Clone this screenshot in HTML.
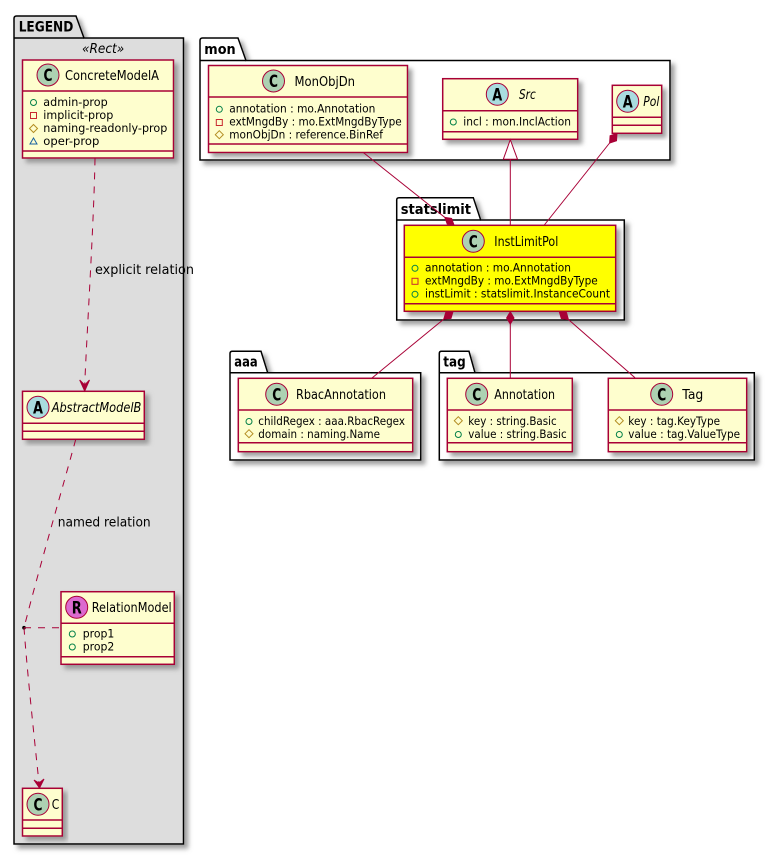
<!DOCTYPE html>
<html>
<head>
<meta charset="utf-8">
<style>
html,body{margin:0;padding:0;background:#fff;width:775px;height:855px;overflow:hidden}
svg{display:block;position:absolute;left:0;top:0}
text{font-family:"DejaVu Sans","Liberation Sans",sans-serif;fill:#000}
.t{font-size:13px}
.r{font-size:11.5px}
.p{font-size:14px;font-weight:bold}
.l{font-size:13px}
.i{font-style:italic}
.c{font-size:17px;font-weight:bold;text-anchor:middle}
.pk{stroke:#000;stroke-width:1.5;fill:#fff}
.cl{stroke:#A80036;stroke-width:1.5;fill:#FEFECE}
.s{stroke:#A80036;stroke-width:1.5;fill:none}
.g{stroke:#A80036;stroke-width:1;fill:#ADD1B2}
.a{stroke:#A80036;stroke-width:1;fill:#A9DCDF}
.m{stroke:#A80036;stroke-width:1;fill:#DC6ACF}
.n{stroke:#A80036;stroke-width:1;fill:none}
.d{stroke:#A80036;stroke-width:1;fill:none;stroke-dasharray:7,7}
.f{stroke:#A80036;stroke-width:1;fill:#A80036}
</style>
</head>
<body>
<svg width="775" height="855" viewBox="0 0 775 855" xmlns="http://www.w3.org/2000/svg">
<defs>
<filter id="sh" x="-10%" y="-10%" width="125%" height="125%">
<feDropShadow dx="4" dy="4" stdDeviation="2.5" flood-color="#888" flood-opacity="0.8"/>
</filter>
<g id="pub"><circle r="3" fill="none" stroke="#038048"/></g>
<g id="pri"><rect x="-3" y="-3" width="6" height="6" fill="none" stroke="#C82930"/></g>
<g id="pro"><polygon points="0,-4 4,0 0,4 -4,0" fill="none" stroke="#B38D22"/></g>
<g id="pkg"><polygon points="0,-3.5 3.5,2.5 -3.5,2.5" fill="none" stroke="#1963A0"/></g>
</defs>

<!-- packages -->
<g filter="url(#sh)">
<path class="pk" style="fill:#DDDDDD" d="M14,38 V18.5 Q14,16 16.5,16 H76 L84,38 H183.5 V844 H14 Z"/>
<path class="pk" d="M200,60.5 V40.5 Q200,38 202.5,38 H238 L246,60.5 H670 V160 H200 Z"/>
<path class="pk" d="M396.7,220 V200 Q396.7,197.7 399,197.7 H473.3 L480.7,220 H624.3 V320 H396.7 Z"/>
<path class="pk" d="M230,372.7 V353.5 Q230,351.3 232.5,351.3 H261 L267.7,372.7 H420.7 V460 H230 Z"/>
<path class="pk" d="M439.3,372.7 V353.5 Q439.3,351.3 441.5,351.3 H469 L475,372.7 H754.3 V460 H439.3 Z"/>
</g>
<path class="pk" style="fill:none" d="M14,38 H84 M200,60.5 H246 M396.7,220 H480.7 M230,372.7 H267.7 M439.3,372.7 H475"/>
<text class="p" x="18.7" y="31.7" textLength="54.6" lengthAdjust="spacingAndGlyphs">LEGEND</text>
<text class="p" x="204.3" y="54" textLength="31.4" lengthAdjust="spacingAndGlyphs">mon</text>
<text class="p" x="400.7" y="214" textLength="70.3" lengthAdjust="spacingAndGlyphs">statslimit</text>
<text class="p" x="234.3" y="366.7" textLength="23.4" lengthAdjust="spacingAndGlyphs">aaa</text>
<text class="p" x="443.3" y="366.7" textLength="22.4" lengthAdjust="spacingAndGlyphs">tag</text>
<text class="l i" x="82" y="53" textLength="42.3" lengthAdjust="spacingAndGlyphs">«Rect»</text>

<!-- ConcreteModelA -->
<rect class="cl" x="22.5" y="60" width="151" height="98" filter="url(#sh)"/>
<path class="s" d="M22.5,91 H173.5 M22.5,151 H173.5"/>
<circle class="g" cx="48" cy="75" r="11"/><text class="c" x="48" y="81" textLength="9" lengthAdjust="spacingAndGlyphs">C</text>
<text class="t" x="65" y="80" textLength="94" lengthAdjust="spacingAndGlyphs">ConcreteModelA</text>
<use href="#pub" x="33.5" y="102.5"/><text class="r" x="43.3" y="106" textLength="64.4" lengthAdjust="spacingAndGlyphs">admin-prop</text>
<use href="#pri" x="33.5" y="115.5"/><text class="r" x="43.3" y="119" textLength="70" lengthAdjust="spacingAndGlyphs">implicit-prop</text>
<use href="#pro" x="33.5" y="128.5"/><text class="r" x="43.3" y="132" textLength="124" lengthAdjust="spacingAndGlyphs">naming-readonly-prop</text>
<use href="#pkg" x="33.5" y="141.5"/><text class="r" x="43.3" y="145" textLength="56" lengthAdjust="spacingAndGlyphs">oper-prop</text>

<!-- AbstractModelB -->
<rect class="cl" x="22.5" y="391.3" width="121.8" height="48" filter="url(#sh)"/>
<path class="s" d="M22.5,423.3 H144.3 M22.5,431.3 H144.3"/>
<circle class="a" cx="38" cy="407.3" r="11"/><text class="c" x="38" y="413.3" textLength="10" lengthAdjust="spacingAndGlyphs">A</text>
<text class="t i" x="51.7" y="412" textLength="89.6" lengthAdjust="spacingAndGlyphs">AbstractModelB</text>

<!-- RelationModel -->
<rect class="cl" x="61" y="591.7" width="113.3" height="72.6" filter="url(#sh)"/>
<path class="s" d="M61,623.3 H174.3 M61,656.7 H174.3"/>
<circle class="m" cx="76.7" cy="607.3" r="11"/><text class="c" x="76.7" y="613.3" textLength="10" lengthAdjust="spacingAndGlyphs">R</text>
<text class="t" x="91.7" y="612" textLength="80" lengthAdjust="spacingAndGlyphs">RelationModel</text>
<use href="#pub" x="72.3" y="634"/><text class="r" x="82.7" y="637.3" textLength="31.6" lengthAdjust="spacingAndGlyphs">prop1</text>
<use href="#pub" x="72.3" y="647"/><text class="r" x="82.7" y="650.3" textLength="31.6" lengthAdjust="spacingAndGlyphs">prop2</text>

<!-- C -->
<rect class="cl" x="22.5" y="788.3" width="39.8" height="47.7" filter="url(#sh)"/>
<path class="s" d="M22.5,820 H62.3 M22.5,828.3 H62.3"/>
<circle class="g" cx="38" cy="804.3" r="11"/><text class="c" x="38" y="810.3" textLength="9" lengthAdjust="spacingAndGlyphs">C</text>
<text class="t" x="51.7" y="809" textLength="7.5" lengthAdjust="spacingAndGlyphs">C</text>

<!-- MonObjDn -->
<rect class="cl" x="208.5" y="65.5" width="199" height="87" filter="url(#sh)"/>
<path class="s" d="M208.5,97 H407.5 M208.5,144 H407.5"/>
<circle class="g" cx="273.5" cy="81" r="11"/><text class="c" x="273.5" y="87" textLength="9" lengthAdjust="spacingAndGlyphs">C</text>
<text class="t" x="294.5" y="86" textLength="60.5" lengthAdjust="spacingAndGlyphs">MonObjDn</text>
<use href="#pub" x="219.3" y="109.3"/><text class="r" x="229.3" y="112.5" textLength="146" lengthAdjust="spacingAndGlyphs">annotation : mo.Annotation</text>
<use href="#pri" x="219.3" y="122.5"/><text class="r" x="229.3" y="125.5" textLength="172.4" lengthAdjust="spacingAndGlyphs">extMngdBy : mo.ExtMngdByType</text>
<use href="#pro" x="219.3" y="134.7"/><text class="r" x="229.3" y="138.5" textLength="153.7" lengthAdjust="spacingAndGlyphs">monObjDn : reference.BinRef</text>

<!-- Src -->
<rect class="cl" x="442.7" y="78.7" width="135" height="60.6" filter="url(#sh)"/>
<path class="s" d="M442.7,110.7 H577.7 M442.7,131.7 H577.7"/>
<circle class="a" cx="497.3" cy="94.3" r="11"/><text class="c" x="497.3" y="100.3" textLength="10" lengthAdjust="spacingAndGlyphs">A</text>
<text class="t i" x="519" y="99" textLength="16.7" lengthAdjust="spacingAndGlyphs">Src</text>
<use href="#pub" x="453.3" y="122"/><text class="r" x="463.3" y="125.3" textLength="107.7" lengthAdjust="spacingAndGlyphs">incl : mon.InclAction</text>

<!-- Pol -->
<rect class="cl" x="612.3" y="85.3" width="49.4" height="48" filter="url(#sh)"/>
<path class="s" d="M612.3,117.3 H661.7 M612.3,125.3 H661.7"/>
<circle class="a" cx="627.7" cy="101.3" r="11"/><text class="c" x="627.7" y="107.3" textLength="10" lengthAdjust="spacingAndGlyphs">A</text>
<text class="t i" x="643.3" y="106" textLength="16" lengthAdjust="spacingAndGlyphs">Pol</text>

<!-- InstLimitPol -->
<rect class="cl" style="fill:#FFFF00" x="404.3" y="225.3" width="211.4" height="86" filter="url(#sh)"/>
<path class="s" d="M404.3,257.3 H615.7 M404.3,303.7 H615.7"/>
<circle class="g" cx="473.3" cy="241.3" r="11"/><text class="c" x="473.3" y="247.3" textLength="9" lengthAdjust="spacingAndGlyphs">C</text>
<text class="t" x="494.3" y="246" textLength="64" lengthAdjust="spacingAndGlyphs">InstLimitPol</text>
<use href="#pub" x="415" y="268.3"/><text class="r" x="425" y="271.7" textLength="146" lengthAdjust="spacingAndGlyphs">annotation : mo.Annotation</text>
<use href="#pri" x="415" y="281.3"/><text class="r" x="425" y="284.7" textLength="172.7" lengthAdjust="spacingAndGlyphs">extMngdBy : mo.ExtMngdByType</text>
<use href="#pub" x="415" y="294.3"/><text class="r" x="425" y="297.7" textLength="185" lengthAdjust="spacingAndGlyphs">instLimit : statslimit.InstanceCount</text>

<!-- RbacAnnotation -->
<rect class="cl" x="238.3" y="378.3" width="174.4" height="73.4" filter="url(#sh)"/>
<path class="s" d="M238.3,410 H412.7 M238.3,442.7 H412.7"/>
<circle class="g" cx="276.7" cy="394.3" r="11"/><text class="c" x="276.7" y="400.3" textLength="9" lengthAdjust="spacingAndGlyphs">C</text>
<text class="t" x="296" y="399" textLength="90" lengthAdjust="spacingAndGlyphs">RbacAnnotation</text>
<use href="#pub" x="249" y="421.5"/><text class="r" x="258.3" y="425" textLength="146.7" lengthAdjust="spacingAndGlyphs">childRegex : aaa.RbacRegex</text>
<use href="#pro" x="249" y="433.7"/><text class="r" x="258.3" y="438" textLength="121.7" lengthAdjust="spacingAndGlyphs">domain : naming.Name</text>

<!-- Annotation -->
<rect class="cl" x="447.3" y="378.3" width="125" height="73.4" filter="url(#sh)"/>
<path class="s" d="M447.3,410 H572.3 M447.3,442.7 H572.3"/>
<circle class="g" cx="476.7" cy="394.3" r="11"/><text class="c" x="476.7" y="400.3" textLength="9" lengthAdjust="spacingAndGlyphs">C</text>
<text class="t" x="494.3" y="399" textLength="60.7" lengthAdjust="spacingAndGlyphs">Annotation</text>
<use href="#pro" x="458.3" y="420.7"/><text class="r" x="468.3" y="425" textLength="88.4" lengthAdjust="spacingAndGlyphs">key : string.Basic</text>
<use href="#pub" x="458.3" y="434.5"/><text class="r" x="468.3" y="438" textLength="98.4" lengthAdjust="spacingAndGlyphs">value : string.Basic</text>

<!-- Tag -->
<rect class="cl" x="608.3" y="378.3" width="138.4" height="73.4" filter="url(#sh)"/>
<path class="s" d="M608.3,410 H746.7 M608.3,442.7 H746.7"/>
<circle class="g" cx="661.7" cy="394.3" r="11"/><text class="c" x="661.7" y="400.3" textLength="9" lengthAdjust="spacingAndGlyphs">C</text>
<text class="t" x="682.3" y="399" textLength="21" lengthAdjust="spacingAndGlyphs">Tag</text>
<use href="#pro" x="619.3" y="420.7"/><text class="r" x="628.3" y="425" textLength="91.7" lengthAdjust="spacingAndGlyphs">key : tag.KeyType</text>
<use href="#pub" x="619.3" y="434.5"/><text class="r" x="628.3" y="438" textLength="111.7" lengthAdjust="spacingAndGlyphs">value : tag.ValueType</text>

<!-- connectors -->
<path class="d" d="M95,158.5 C94,220 87,330 84.7,385"/>
<polygon class="f" points="84.7,391 79.7,380 84.7,385 89.5,380"/>
<text class="l" x="95" y="274" textLength="99" lengthAdjust="spacingAndGlyphs">explicit relation</text>
<path class="d" d="M75.7,439.5 C62,490 40,565 24,627.7"/>
<text class="l" x="57.7" y="526.7" textLength="93" lengthAdjust="spacingAndGlyphs">named relation</text>
<circle cx="24" cy="627.7" r="1.8" fill="#000"/>
<path class="d" d="M24,627.7 H61"/>
<path class="d" d="M24,627.7 C27,670 35,745 39,783"/>
<polygon class="f" points="39.5,788 34,780 39,783 44,779"/>

<path class="n" d="M363.3,152.5 L444.8,217.4"/>
<polygon class="f" points="454,225 451.6,218.5 444.8,217.4 447.2,223.9"/>

<path class="n" d="M510.3,159.3 V225"/>
<polygon points="510.3,139.7 503.3,159.3 517.5,159.3" fill="#fff" stroke="#A80036"/>

<path class="n" d="M609.6,143 L544.3,225"/>
<polygon class="f" points="617,133.5 616.5,140.7 609.6,143 610.1,135.7"/>

<path class="n" d="M443.8,319.1 L371.7,378.3"/>
<polygon class="f" points="453,311.5 451,318.4 443.8,319.1 445.8,312.2"/>

<path class="n" d="M510.3,324 V378.3"/>
<polygon class="f" points="510.3,311.7 514,318 510.3,324 506.6,318"/>

<path class="n" d="M568.4,319.5 L635,377.7"/>
<polygon class="f" points="559.3,311.7 566.5,312.6 568.4,319.5 561.3,318.6"/>
</svg>
</body>
</html>
